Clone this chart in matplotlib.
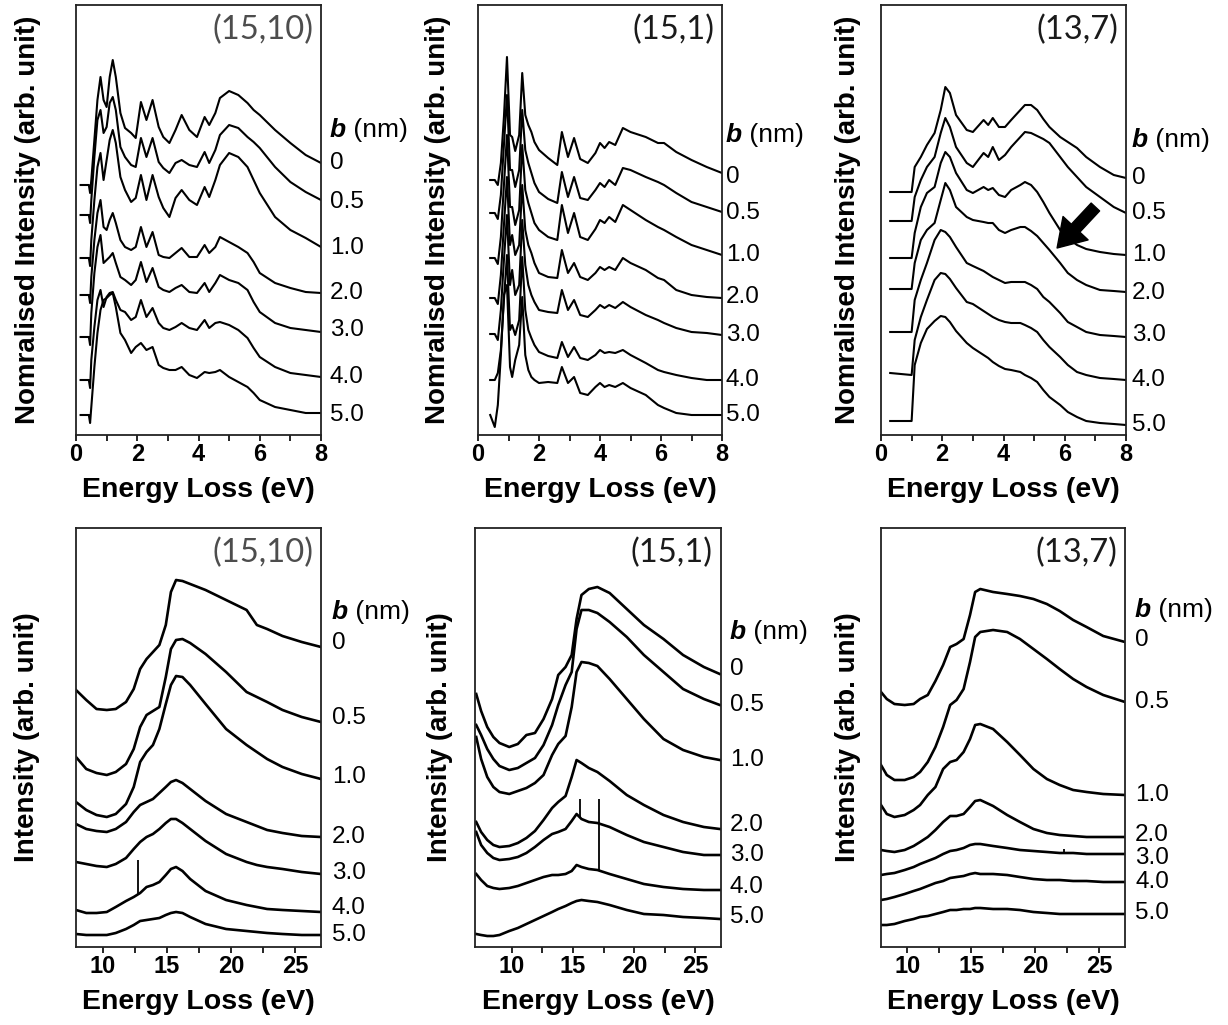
import numpy as np
import matplotlib
matplotlib.use('Agg')
import matplotlib.pyplot as plt

plt.rcParams['font.family'] = ['Liberation Sans', 'DejaVu Sans']

# impact parameter b (nm) of each spectrum, top to bottom
b_labels = ['0', '0.5', '1.0', '2.0', '3.0', '4.0', '5.0']
tubes = ['(15,10)', '(15,1)', '(13,7)']

# ---- low loss spectra (0-8 eV), intensity in arb. units (offset stacks) ----
low1_x = [0.15, 0.42, 0.46, 0.5, 0.6, 0.7, 0.8, 0.9, 1.0, 1.1, 1.2, 1.3, 1.45, 1.6,
          1.8, 1.95, 2.12, 2.3, 2.5, 2.7, 2.85, 3.05, 3.25, 3.45, 3.7, 3.95, 4.2,
          4.35, 4.55, 4.7, 5.0, 5.3, 5.6, 5.8, 6.0, 6.5, 7.0, 7.5, 8.0]
low1_y = [
    [250, 250, 242, 255, 295, 335, 358, 335, 328, 358, 375, 358, 322, 307, 302, 297, 333, 315, 335, 308,
     298, 292, 305, 320, 305, 298, 318, 310, 322, 337, 344, 340, 332, 325, 320, 305, 292, 280, 272],
    [220, 220, 212, 235, 278, 315, 325, 302, 308, 332, 338, 325, 288, 278, 270, 268, 297, 278, 297, 273,
     267, 262, 272, 275, 270, 268, 283, 272, 285, 300, 310, 307, 298, 293, 287, 268, 253, 243, 235],
    [177, 177, 169, 195, 235, 268, 282, 255, 275, 295, 305, 292, 258, 245, 233, 237, 260, 235, 260, 238,
     227, 218, 237, 245, 235, 230, 248, 238, 255, 270, 282, 278, 268, 255, 242, 218, 205, 197, 188],
    [140, 140, 132, 158, 195, 222, 235, 208, 205, 215, 222, 212, 195, 188, 185, 188, 208, 188, 203, 180,
     178, 177, 182, 187, 178, 178, 190, 182, 188, 198, 193, 188, 182, 173, 162, 152, 147, 143, 142],
    [98, 98, 90, 122, 162, 188, 200, 172, 175, 178, 182, 172, 158, 155, 150, 155, 173, 153, 167, 148,
     145, 143, 147, 150, 143, 142, 152, 143, 152, 160, 155, 152, 145, 133, 123, 112, 107, 105, 103],
    [55, 55, 47, 75, 108, 135, 145, 128, 138, 142, 143, 135, 125, 123, 115, 118, 135, 118, 127, 112,
     107, 105, 108, 112, 107, 105, 115, 107, 112, 113, 110, 105, 97, 87, 78, 68, 62, 60, 58],
    [20, 20, 12, 28, 68, 102, 125, 135, 137, 140, 142, 128, 102, 95, 82, 88, 92, 85, 88, 70,
     67, 65, 65, 68, 60, 57, 63, 62, 63, 65, 58, 53, 48, 42, 35, 28, 25, 22, 22],
]

low2_x = [0.4, 0.55, 0.65, 0.75, 0.85, 0.95, 1.05, 1.12, 1.22, 1.35, 1.45, 1.55, 1.65, 1.75,
          1.85, 2.0, 2.3, 2.6, 2.75, 2.95, 3.15, 3.35, 3.6, 3.85, 4.0, 4.15, 4.3, 4.5,
          4.75, 5.0, 5.5, 5.9, 6.1, 6.5, 7.0, 7.5, 8.0]
low2_y = [
    [255, 255, 250, 272, 318, 378, 300, 298, 284, 300, 362, 320, 310, 303, 293, 285, 277, 270, 303,
     278, 297, 276, 272, 282, 292, 287, 293, 290, 307, 303, 298, 292, 292, 283, 275, 268, 262],
    [222, 222, 216, 240, 290, 340, 265, 265, 248, 265, 325, 285, 272, 262, 252, 243, 236, 232, 263,
     238, 258, 237, 235, 245, 252, 248, 255, 250, 267, 265, 258, 253, 250, 242, 233, 228, 223],
    [177, 177, 171, 198, 250, 300, 228, 228, 210, 225, 290, 245, 232, 222, 212, 205, 198, 195, 230,
     202, 222, 198, 195, 206, 215, 212, 218, 213, 230, 225, 215, 208, 205, 198, 190, 185, 180],
    [137, 137, 131, 160, 210, 258, 190, 200, 180, 190, 250, 205, 190, 182, 172, 162, 158, 157, 185,
     162, 172, 158, 155, 162, 168, 165, 168, 165, 177, 172, 165, 157, 155, 145, 140, 138, 137],
    [101, 101, 95, 125, 175, 220, 150, 165, 140, 150, 215, 170, 150, 140, 133, 125, 123, 122, 145,
     125, 135, 120, 118, 125, 130, 127, 130, 127, 133, 128, 120, 115, 112, 107, 103, 102, 100],
    [55, 55, 62, 85, 135, 180, 105, 110, 100, 115, 178, 125, 105, 97, 90, 83, 79, 77, 93,
     78, 88, 77, 75, 80, 85, 82, 83, 82, 85, 80, 72, 65, 63, 60, 57, 55, 55],
    [20, 8, 30, 80, 140, 150, 68, 58, 75, 90, 138, 80, 65, 58, 55, 52, 53, 52, 68,
     52, 58, 42, 40, 48, 52, 48, 50, 48, 52, 47, 40, 30, 27, 22, 20, 20, 20],
]

low3_x = [0.3, 1.0, 1.1, 1.3, 1.5, 1.75, 1.95, 2.1, 2.25, 2.45, 2.8, 3.0, 3.35, 3.5, 3.65,
          3.85, 4.05, 4.25, 4.55, 4.7, 4.9, 5.1, 5.3, 5.5, 5.85, 6.1, 6.4, 6.7, 7.15, 7.6, 8.0]
low3_y = [
    [243, 243, 268, 278, 290, 302, 325, 348, 342, 320, 305, 303, 315, 310, 317, 308,
     308, 315, 325, 330, 330, 325, 316, 308, 298, 293, 287, 278, 268, 260, 257],
    [214, 214, 238, 255, 268, 278, 302, 317, 308, 288, 272, 268, 282, 278, 288, 275,
     280, 288, 298, 303, 302, 299, 296, 292, 278, 268, 258, 248, 238, 228, 222],
    [177, 177, 202, 228, 242, 248, 272, 283, 278, 262, 245, 242, 248, 245, 247, 240,
     238, 245, 250, 253, 250, 243, 233, 222, 205, 197, 190, 186, 183, 181, 180],
    [146, 146, 172, 195, 205, 212, 235, 252, 245, 228, 218, 215, 213, 212, 212, 205,
     202, 205, 208, 208, 204, 199, 192, 185, 172, 162, 155, 150, 145, 144, 143],
    [103, 103, 135, 155, 172, 195, 205, 203, 198, 188, 172, 169, 164, 161, 158, 155,
     152, 153, 153, 153, 150, 146, 138, 133, 122, 113, 108, 103, 100, 99, 98],
    [62, 60, 95, 118, 135, 155, 162, 161, 156, 147, 133, 131, 124, 121, 118, 115,
     113, 112, 112, 110, 107, 103, 95, 88, 78, 70, 63, 60, 57, 56, 55],
    [14, 14, 70, 92, 106, 114, 119, 118, 113, 104, 92, 87, 80, 77, 73, 69,
     66, 65, 63, 60, 57, 53, 45, 38, 30, 23, 18, 14, 12, 11, 10],
]

# ---- plasmon region spectra (8-27 eV) ----
high1_x = [7.9, 8.7, 9.5, 10.3, 11.0, 11.8, 12.4, 12.9, 13.4, 13.9, 14.4, 14.9,
           15.3, 15.7, 16.2, 16.8, 18.0, 19.6, 21.2, 22.0, 22.8, 24.0, 25.5, 27.0]
high1_y = [
    [257, 247, 238, 237, 238, 245, 258, 278, 288, 295, 302, 322, 355, 367, 366, 363, 357, 347, 337, 322, 318, 311, 305, 300],
    [190, 178, 174, 172, 175, 183, 198, 220, 232, 236, 240, 270, 298, 307, 308, 304, 293, 275, 255, 250, 245, 237, 230, 225],
    [145, 137, 132, 130, 133, 143, 160, 185, 195, 202, 218, 243, 262, 271, 270, 262, 243, 218, 202, 195, 188, 180, 173, 168],
    [123, 118, 116, 115, 118, 125, 135, 142, 145, 148, 154, 160, 165, 167, 164, 158, 146, 133, 125, 121, 117, 114, 111, 110],
    [85, 83, 81, 80, 83, 89, 98, 105, 110, 113, 118, 124, 128, 128, 124, 118, 106, 93, 85, 82, 80, 78, 75, 73],
    [37, 34, 34, 35, 40, 46, 50, 54, 60, 62, 65, 72, 78, 80, 76, 68, 56, 47, 42, 40, 38, 37, 36, 35],
    [13, 12, 12, 12, 14, 18, 22, 26, 27, 28, 29, 32, 34, 35, 34, 30, 23, 18, 16, 15, 14, 13, 12, 12],
]
high1_spike_curve = [5]
high1_spike_x = [12.75]
high1_spike_top = [87]

high2_x = [7.1, 7.5, 8.0, 8.5, 9.0, 9.8, 10.5, 11.2, 11.9, 12.6, 13.3, 13.8, 14.4,
           14.9, 15.3, 15.7, 16.3, 17.0, 18.0, 19.4, 20.8, 22.4, 24.0, 25.7, 27.0]
high2_y = [
    [253, 236, 220, 210, 204, 200, 203, 212, 214, 228, 248, 272, 280, 292, 328, 352, 358, 360, 354, 338, 322, 308, 292, 280, 273],
    [222, 212, 198, 188, 181, 177, 179, 184, 189, 202, 222, 242, 262, 275, 318, 337, 337, 334, 325, 310, 292, 275, 258, 248, 242],
    [210, 188, 170, 160, 155, 153, 156, 159, 164, 172, 192, 203, 211, 240, 275, 285, 284, 281, 268, 248, 228, 208, 197, 190, 187],
    [125, 115, 107, 102, 100, 101, 104, 109, 116, 127, 139, 145, 151, 170, 187, 184, 179, 175, 166, 152, 142, 132, 125, 120, 118],
    [115, 102, 94, 89, 87, 88, 90, 94, 100, 107, 113, 115, 118, 126, 133, 128, 125, 124, 120, 112, 105, 100, 95, 92, 92],
    [73, 67, 61, 59, 58, 59, 61, 64, 67, 70, 72, 72, 73, 76, 82, 80, 78, 77, 73, 68, 63, 60, 58, 57, 57],
    [13, 12, 11, 11, 12, 16, 19, 23, 27, 31, 35, 38, 41, 44, 46, 47, 46, 45, 42, 37, 33, 32, 30, 29, 28],
]
high2_spike_curve = [4, 5]
high2_spike_x = [15.6, 17.1]
high2_spike_top = [148, 148]

high3_x = [7.95, 8.4, 9.0, 9.8, 10.5, 11.0, 11.6, 12.2, 12.8, 13.35, 13.85, 14.4, 14.9,
           15.3, 15.7, 16.7, 17.8, 18.8, 19.85, 20.9, 21.9, 22.95, 24.0, 25.3, 27.0]
high3_y = [
    [255, 248, 243, 242, 243, 248, 252, 266, 282, 300, 303, 308, 332, 355, 358, 355, 353, 351, 348, 343, 336, 327, 320, 311, 305],
    [182, 172, 167, 167, 170, 175, 185, 200, 220, 242, 247, 258, 285, 310, 315, 317, 315, 308, 298, 288, 278, 268, 260, 252, 245],
    [142, 133, 130, 132, 137, 142, 152, 160, 178, 185, 187, 195, 208, 222, 223, 218, 205, 192, 178, 168, 162, 157, 155, 153, 152],
    [97, 96, 95, 97, 101, 105, 110, 117, 125, 131, 131, 133, 140, 146, 147, 141, 132, 125, 118, 114, 112, 111, 110, 110, 110],
    [72, 73, 74, 77, 80, 83, 86, 89, 93, 96, 97, 99, 102, 103, 103, 101, 99, 97, 96, 95, 94, 94, 93, 93, 93],
    [47, 48, 50, 53, 56, 58, 61, 64, 66, 69, 70, 71, 73, 74, 73, 73, 72, 70, 68, 67, 67, 66, 66, 65, 65],
    [22, 22, 23, 26, 28, 30, 31, 33, 35, 37, 37, 38, 38, 39, 39, 38, 38, 37, 35, 34, 33, 33, 33, 33, 33],
]
high3_spike_curve = [4]
high3_spike_x = [22.2]
high3_spike_top = [98]

# ---- layout (pixels of the 1228x1025 figure) ----
W, H = 1228, 1025
top_boxes = [(76, 5, 321, 435), (478, 5, 722, 435), (881, 5, 1126, 435)]
bot_boxes = [(76, 528, 321, 947), (475, 528, 721, 947), (881, 528, 1125, 947)]
top_xlims = [(0, 8), (0, 8), (0, 8)]
bot_xlims = [(7.9, 27.0), (7.0, 27.1), (7.95, 27.0)]
top_ylabel_x = [28, 438, 848]
bot_ylabel_x = [27, 440, 848]
top_blab_x = [330, 726, 1132]
top_blab_y = [[163, 202, 248, 293, 330, 377, 415],
              [177, 213, 255, 297, 335, 380, 415],
              [178, 213, 255, 293, 335, 380, 425]]
top_head_y = [130, 135, 140]
bot_blab_x = [332, 730, 1135]
bot_blab_y = [[643, 718, 777, 837, 873, 908, 935],
              [669, 705, 760, 825, 855, 887, 917],
              [640, 702, 795, 835, 858, 882, 913]]
bot_head_y = [612, 632, 610]
title_colors = ['#4d4d4d', '#1a1a1a', '#1a1a1a']

fig = plt.figure(figsize=(W / 100, H / 100), dpi=100)


def make_axes(box):
    l, t, r, b = box
    return fig.add_axes([l / W, 1 - b / H, (r - l) / W, (b - t) / H])


def style_axes(ax, box, xlim, ylim, major, minor, ylabel, ylabel_px, title, tcol):
    l, t, r, b = box
    ax.set_xlim(*xlim)
    ax.set_ylim(*ylim)
    ax.set_yticks([])
    ax.set_xticks(major)
    ax.set_xticklabels([str(m) for m in major], fontweight='bold', fontsize=17)
    ax.set_xticks(minor, minor=True)
    ax.tick_params(axis='x', which='both', direction='out', length=4.5, width=1.2, pad=1.5)
    for s in ax.spines.values():
        s.set_linewidth(1.3)
        s.set_color('#222222')
    ax.set_xlabel('Energy Loss (eV)', fontsize=20.5, fontweight='bold', va='center')
    ax.xaxis.set_label_coords(0.5, -55 / (b - t))
    ax.set_ylabel(ylabel, fontsize=20, fontweight='bold', va='center')
    ax.yaxis.set_label_coords((ylabel_px - l) / (r - l), 0.5)
    ax.text(1 - 8 / (r - l), 1 - 25 / (b - t), title, transform=ax.transAxes,
            ha='right', va='center', fontsize=23.5, family=['Lato', 'DejaVu Sans'], color=tcol)


def b_labels_column(ax, x_px, ys_px, head_px):
    hb = fig.text(x_px / W, 1 - head_px / H, 'b', fontsize=19, fontweight='bold',
                  fontstyle='italic', ha='left', va='center')
    ax.annotate(' (nm)', xy=(1, 0), xycoords=hb, ha='left', va='bottom', fontsize=19,
                annotation_clip=False)
    for lab, y in zip(b_labels, ys_px):
        fig.text(x_px / W, 1 - y / H, lab, fontsize=17.5, ha='left', va='center')


low_sets = [(low1_x, low1_y), (low2_x, low2_y), (low3_x, low3_y)]
high_sets = [(high1_x, high1_y, high1_spike_curve, high1_spike_x, high1_spike_top),
             (high2_x, high2_y, high2_spike_curve, high2_spike_x, high2_spike_top),
             (high3_x, high3_y, high3_spike_curve, high3_spike_x, high3_spike_top)]

for i in range(3):
    # top row: low-loss region
    ax = make_axes(top_boxes[i])
    xs, ys = low_sets[i]
    for y in ys:
        ax.plot(xs, y, color='black', lw=1.5, solid_joinstyle='round')
    style_axes(ax, top_boxes[i], top_xlims[i], (0, 430), [0, 2, 4, 6, 8], [1, 3, 5, 7],
               'Nomralised Intensity (arb. unit)', top_ylabel_x[i], tubes[i], title_colors[i])
    if i == 2:
        # arrow marking the shoulder on the b = 2.0 nm spectrum
        ax.annotate('', xy=(5.75, 187), xytext=(7.0, 228),
                    arrowprops=dict(arrowstyle='simple,head_width=0.95,head_length=0.75,tail_width=0.32',
                                    color='black', mutation_scale=26, shrinkA=0, shrinkB=0))
    b_labels_column(ax, top_blab_x[i], top_blab_y[i], top_head_y[i])

    # bottom row: plasmon region
    ax = make_axes(bot_boxes[i])
    xs, ys, sc, sx, st = high_sets[i]
    for y in ys:
        ax.plot(xs, y, color='black', lw=1.9, solid_joinstyle='round')
    for c, x0, top in zip(sc, sx, st):
        ax.vlines(x0, np.interp(x0, xs, ys[c]), top, color='black', lw=1.3)
    style_axes(ax, bot_boxes[i], bot_xlims[i], (0, 419), [10, 15, 20, 25], [12.5, 17.5, 22.5],
               'Intensity (arb. unit)', bot_ylabel_x[i], tubes[i], title_colors[i])
    b_labels_column(ax, bot_blab_x[i], bot_blab_y[i], bot_head_y[i])

fig.savefig('out.png', dpi=100)
